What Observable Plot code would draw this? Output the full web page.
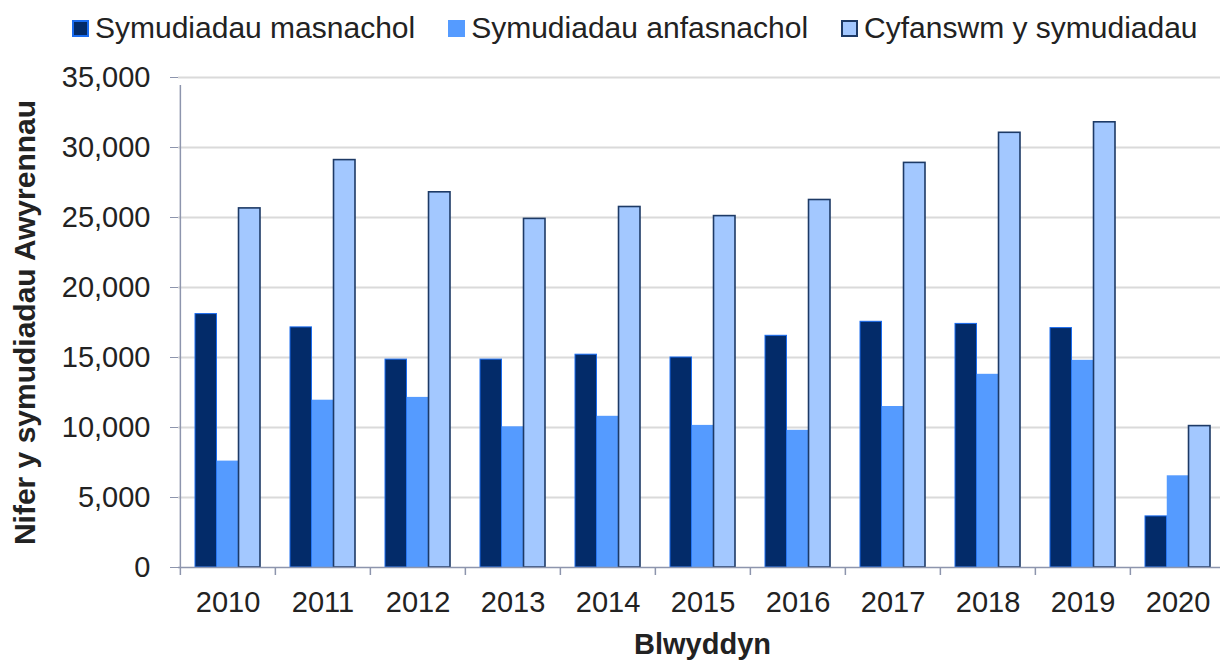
<!DOCTYPE html>
<html>
<head>
<meta charset="utf-8">
<script src="https://cdn.jsdelivr.net/npm/d3@7"></script>
<script src="https://cdn.jsdelivr.net/npm/@observablehq/plot@0.6"></script>
<style>
  html, body { margin: 0; padding: 0; background: #fff; }
  body { width: 1220px; height: 662px; overflow: hidden; font-family: "Liberation Sans", Arial, sans-serif; }
  #legend { height: 56px; display: flex; align-items: center; padding-left: 72px; font-size: 30px; color: #222; white-space: nowrap; }
  .item { display: flex; align-items: center; margin-right: 33px; }
  .sw { width: 17px; height: 17px; box-sizing: border-box; margin-right: 6px; }
</style>
</head>
<body>
<div id="legend"></div>
<div id="chart"></div>
<script>
// ---- Data ----
const years = ["2010", "2011", "2012", "2013", "2014", "2015", "2016", "2017", "2018", "2019", "2020"];
const seriesNames = ["Symudiadau masnachol", "Symudiadau anfasnachol", "Cyfanswm y symudiadau"];
const masnachol   = [18100, 17150, 14850, 14850, 15200, 15000, 16550, 17550, 17400, 17100, 3650];
const anfasnachol = [7600, 11950, 12150, 10050, 10800, 10150, 9800, 11500, 13800, 14800, 6550];
const cyfanswm    = [25650, 29100, 26800, 24900, 25750, 25100, 26250, 28900, 31050, 31800, 10100];
const yTicks = [0, 5000, 10000, 15000, 20000, 25000, 30000, 35000];
const yLabel = "Nifer y symudiadau Awyrennau";
const xLabel = "Blwyddyn";

// ---- Styles ----
const fills   = ["#032b69", "#559bff", "#a3c8ff"];
const strokes = ["#1a6cf0", "#559bff", "#1d3a66"];
const strokeWidths = [1, 0, 1.6];
const axisColor = "#8d95ad";
const textColor = "#222";

const seriesValues = [masnachol, anfasnachol, cyfanswm];
const data = seriesValues.flatMap((vals, s) => years.map((y, i) => ({year: y, series: seriesNames[s], s, value: vals[i]})));

// Legend
const legend = document.getElementById("legend");
seriesNames.forEach((name, s) => {
  const item = document.createElement("div");
  item.className = "item";
  const sw = document.createElement("span");
  sw.className = "sw";
  sw.style.background = fills[s];
  if (s !== 1) sw.style.border = `2px solid ${strokes[s]}`;
  const t = document.createElement("span");
  t.textContent = name;
  item.appendChild(sw); item.appendChild(t);
  legend.appendChild(item);
});

// Layout
const width = 1220, height = 606;
const marginLeft = 178, marginRight = -6, marginTop = 21, marginBottom = 95;
const bw = (width - marginRight - marginLeft) / years.length;
const groupPad = 15;
const barW = (bw - 2 * groupPad) / seriesNames.length;

const barMarks = seriesNames.map((name, s) =>
  Plot.barY(data.filter(d => d.s === s), {
    x: "year", y: "value",
    fill: fills[s], stroke: strokes[s], strokeWidth: strokeWidths[s],
    insetLeft: groupPad + s * barW,
    insetRight: bw - groupPad - (s + 1) * barW
  })
);

const chart = Plot.plot({
  width, height, marginLeft, marginRight, marginTop, marginBottom,
  style: {fontFamily: "'Liberation Sans', Arial, sans-serif", color: textColor, background: "#fff"},
  x: {domain: years, padding: 0, axis: null},
  y: {domain: [0, 35000], axis: null},
  marks: [
    Plot.ruleY(yTicks.filter(d => d > 0), {stroke: "#dadada", strokeWidth: 2}),
    ...barMarks,
    Plot.ruleY([0], {stroke: axisColor, strokeWidth: 1.5}),
    Plot.ruleX([years[0]], {y1: 0, y2: 35000, insetBottom: -8, dx: -bw / 2, stroke: axisColor, strokeWidth: 1.5}),
    Plot.ruleX(years, {y1: 0, y2: 0, insetBottom: -8, dx: -bw / 2, stroke: axisColor, strokeWidth: 1.5}),
    Plot.axisY({ticks: yTicks, tickSize: 8, tickPadding: 20, tickFormat: d3.format(","), fontSize: 29, stroke: axisColor, fill: textColor, label: null}),
    Plot.axisX({tickSize: 0, tickPadding: 24, fontSize: 29, fill: textColor, label: null}),
    Plot.text([yLabel], {frameAnchor: "left", rotate: -90, dx: -153, fontSize: 30, fontWeight: "bold", fill: textColor, textAnchor: "middle"}),
    Plot.text([xLabel], {frameAnchor: "bottom", dy: 86, dx: 0, fontSize: 29, fontWeight: "bold", fill: textColor, textAnchor: "middle"})
  ]
});
document.getElementById("chart").appendChild(chart);
</script>
</body>
</html>
